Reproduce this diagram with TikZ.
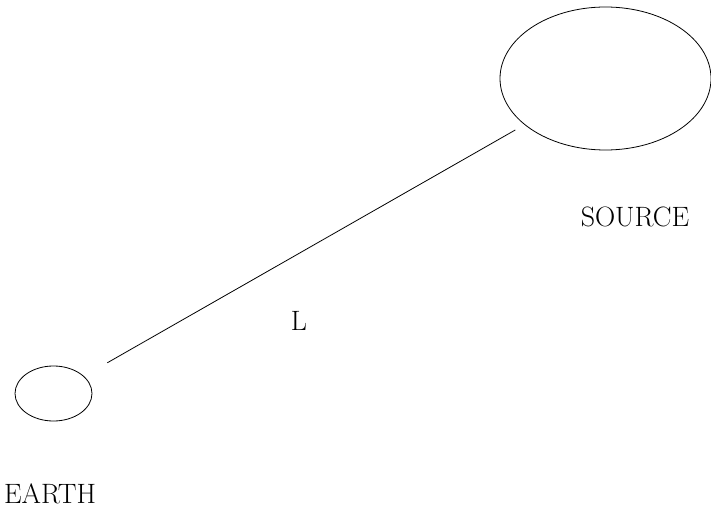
\documentclass[tikz,border=0pt]{standalone}
\usepackage{tikz}
\usetikzlibrary{shapes.geometric}

\begin{document}
\begin{tikzpicture}[x=1pt,y=-1pt,line width=.8pt]
    \useasboundingbox (0,0) rectangle (711,518);
    \tikzset{body/.style={draw,ellipse,inner sep=0pt},
      lab/.style={font=\fontsize{28}{30}\selectfont}}
    \node[body,minimum width=211pt,minimum height=143pt] (source) at (605.5,78.5) {};
    \node[body,minimum width=77pt,minimum height=55pt] (earth) at (53.5,393.5) {};
    \draw[shorten <=27pt,shorten >=10.5pt] (earth) -- (source);
    \node[lab] (srclab) at (635,217) {SOURCE};
    \node[lab] (earthlab) at (50,494) {EARTH};
    \node[lab] (dist) at (299,321) {L};
  \end{tikzpicture}
\end{document}
